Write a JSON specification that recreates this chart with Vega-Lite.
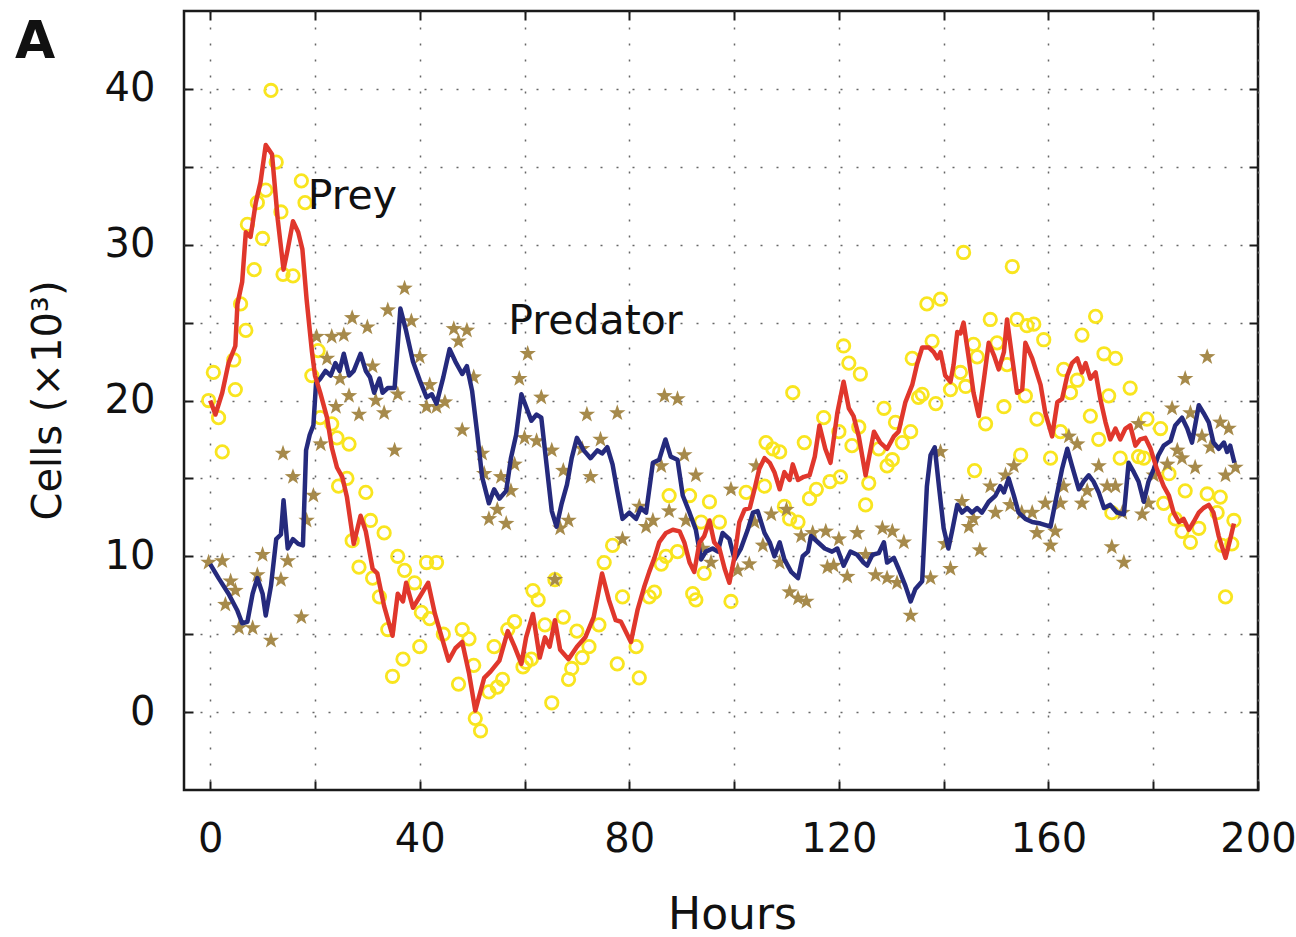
{
"$schema": "https://vega.github.io/schema/vega-lite/v6.json",
"width": 1074, "height": 779,
"autosize": {"type": "none"},
"padding": {"left": 184, "top": 11, "right": 38, "bottom": 147},
"background": "white",
"config": {"view": {"stroke": "#1a1a1a", "strokeWidth": 2.5}, "font": "DejaVu Sans"},
"title": {"text": "A", "anchor": "start", "frame": "group", "orient": "top", "offset": 0, "baseline": "alphabetic", "dx": -169, "dy": 100, "fontSize": 52, "fontWeight": "bold", "font": "DejaVu Sans", "color": "#111111"},
"datasets": {
"prey_line": [{"h":0,"v":20.0},{"h":1,"v":19.1},{"h":2.3,"v":20.5},{"h":3.5,"v":22.4},{"h":4.8,"v":23.5},{"h":5.2,"v":26.2},{"h":6.1,"v":27.6},{"h":6.8,"v":30.8},{"h":7.7,"v":30.5},{"h":8.7,"v":32.7},{"h":9.6,"v":34.0},{"h":10.6,"v":36.4},{"h":11.8,"v":35.8},{"h":12.9,"v":31.6},{"h":14,"v":28.4},{"h":14.8,"v":29.7},{"h":15.8,"v":31.5},{"h":16.8,"v":30.8},{"h":17.6,"v":29.7},{"h":18.4,"v":26.5},{"h":19.4,"v":23.2},{"h":20,"v":21.6},{"h":21,"v":20.5},{"h":22.3,"v":18.9},{"h":23.2,"v":17},{"h":24.2,"v":15.7},{"h":25.2,"v":15.1},{"h":26.1,"v":13.8},{"h":27.4,"v":10.8},{"h":28.7,"v":12.6},{"h":29.7,"v":11.6},{"h":31,"v":9.2},{"h":31.9,"v":8.9},{"h":33.2,"v":6.8},{"h":34.8,"v":4.9},{"h":35.8,"v":7.6},{"h":36.8,"v":7.1},{"h":37.4,"v":8.3},{"h":38.7,"v":6.7},{"h":40,"v":7.4},{"h":41.6,"v":8.3},{"h":42.9,"v":6.3},{"h":44.2,"v":4.8},{"h":45.5,"v":3.3},{"h":46.8,"v":4.1},{"h":48.1,"v":4.5},{"h":49.4,"v":2.5},{"h":50.6,"v":0.1},{"h":52.3,"v":2.2},{"h":53.5,"v":2.6},{"h":55.2,"v":3.3},{"h":56.8,"v":5.2},{"h":58.1,"v":4.2},{"h":59.4,"v":3.1},{"h":60.3,"v":4.8},{"h":61.6,"v":6.3},{"h":62.9,"v":3.5},{"h":63.9,"v":4.8},{"h":64.8,"v":4.2},{"h":65.8,"v":5.9},{"h":66.8,"v":4.0},{"h":68.4,"v":3.4},{"h":70,"v":4.2},{"h":71.6,"v":4.8},{"h":73.2,"v":6.1},{"h":74.8,"v":8.9},{"h":76.1,"v":7.2},{"h":77.4,"v":5.9},{"h":78.4,"v":5.8},{"h":80.3,"v":4.5},{"h":81.6,"v":6.6},{"h":82.9,"v":8.1},{"h":83.8,"v":9.0},{"h":84.8,"v":9.9},{"h":85.7,"v":10.9},{"h":87,"v":11.5},{"h":88.3,"v":11.7},{"h":89.6,"v":11.6},{"h":90.5,"v":10.9},{"h":91.5,"v":9.6},{"h":92.4,"v":9.0},{"h":93.4,"v":10.9},{"h":94.3,"v":11.3},{"h":95.3,"v":12.3},{"h":96.2,"v":10.9},{"h":97.2,"v":10.5},{"h":98.2,"v":9.2},{"h":99.1,"v":8.3},{"h":100.1,"v":10},{"h":101,"v":12.2},{"h":102,"v":13.0},{"h":103,"v":13.1},{"h":103.9,"v":14.3},{"h":104.8,"v":15.6},{"h":105.8,"v":16.3},{"h":106.8,"v":16.0},{"h":107.7,"v":15.4},{"h":108.7,"v":14.3},{"h":109.6,"v":15.4},{"h":110.6,"v":14.9},{"h":111.2,"v":15.9},{"h":112.2,"v":14.9},{"h":113.3,"v":15.1},{"h":114.4,"v":15.2},{"h":115.4,"v":16.4},{"h":116.3,"v":18.4},{"h":117.4,"v":16.9},{"h":118.4,"v":16.0},{"h":119.7,"v":19.2},{"h":120.9,"v":21.2},{"h":121.9,"v":19.5},{"h":122.8,"v":19.0},{"h":123.8,"v":17.7},{"h":125.1,"v":15.2},{"h":126.7,"v":18.0},{"h":127.9,"v":17.3},{"h":129.2,"v":16.9},{"h":130.5,"v":17.7},{"h":131.4,"v":18.0},{"h":132.7,"v":19.9},{"h":134,"v":21.0},{"h":134.9,"v":22.3},{"h":135.9,"v":23.4},{"h":137.2,"v":23.4},{"h":138.1,"v":23.1},{"h":138.8,"v":22.7},{"h":139.4,"v":23.1},{"h":140.3,"v":21.6},{"h":141.3,"v":21.2},{"h":141.9,"v":22.3},{"h":142.6,"v":24.4},{"h":143.2,"v":24.3},{"h":143.8,"v":25.0},{"h":144.8,"v":22.7},{"h":145.7,"v":20.5},{"h":146.7,"v":19.0},{"h":147.7,"v":21.4},{"h":148.6,"v":23.7},{"h":149.6,"v":22.9},{"h":150.5,"v":22.0},{"h":151.5,"v":23.1},{"h":152.1,"v":25.2},{"h":153.1,"v":22.7},{"h":154,"v":20.5},{"h":155,"v":20.7},{"h":155.6,"v":23.7},{"h":156.9,"v":22.7},{"h":158.5,"v":21.0},{"h":159.4,"v":19.2},{"h":160.7,"v":17.7},{"h":161.7,"v":19.9},{"h":162.6,"v":20.1},{"h":163.6,"v":21.6},{"h":164.5,"v":22.4},{"h":165.5,"v":22.7},{"h":166.4,"v":21.8},{"h":167.1,"v":22.4},{"h":168,"v":21.4},{"h":169,"v":21.8},{"h":169.9,"v":20.1},{"h":170.9,"v":18.6},{"h":171.8,"v":17.5},{"h":172.8,"v":18.2},{"h":173.7,"v":17.5},{"h":174.7,"v":18.2},{"h":175.6,"v":18.4},{"h":176.6,"v":17.1},{"h":177.5,"v":17.5},{"h":178.5,"v":17.6},{"h":179.5,"v":16.9},{"h":180.7,"v":15.6},{"h":182,"v":14.5},{"h":183,"v":13.9},{"h":183.9,"v":12.8},{"h":184.9,"v":12.2},{"h":185.8,"v":12.4},{"h":186.8,"v":11.7},{"h":187.7,"v":12.2},{"h":188.7,"v":12.8},{"h":189.6,"v":13.1},{"h":190.6,"v":13.3},{"h":191.5,"v":12.8},{"h":192.5,"v":11.3},{"h":193.8,"v":9.9},{"h":194.7,"v":11.1},{"h":195.4,"v":12.1}],
"pred_line": [{"h":0,"v":9.5},{"h":1.6,"v":8.6},{"h":3.5,"v":7.6},{"h":5.2,"v":6.5},{"h":6.1,"v":5.7},{"h":7.1,"v":5.8},{"h":8.1,"v":7.6},{"h":9,"v":8.6},{"h":10,"v":7.6},{"h":10.6,"v":6.2},{"h":11.6,"v":8.1},{"h":12.6,"v":11.1},{"h":13.5,"v":11.4},{"h":14,"v":13.6},{"h":14.8,"v":10.5},{"h":15.8,"v":11.1},{"h":16.8,"v":10.8},{"h":17.7,"v":10.7},{"h":18.3,"v":16.8},{"h":19,"v":17.8},{"h":19.7,"v":18.4},{"h":20.2,"v":21.1},{"h":21,"v":21.4},{"h":22,"v":21.9},{"h":23,"v":21.6},{"h":23.9,"v":22.4},{"h":24.7,"v":21.9},{"h":25.5,"v":23.0},{"h":26.5,"v":21.6},{"h":27.4,"v":21.9},{"h":28.7,"v":23.0},{"h":29.7,"v":21.9},{"h":30.5,"v":21.5},{"h":31.3,"v":20.5},{"h":32.3,"v":21.4},{"h":32.9,"v":20.5},{"h":33.9,"v":20.8},{"h":35.2,"v":20.8},{"h":36.3,"v":25.9},{"h":37.3,"v":24.6},{"h":38.7,"v":22.5},{"h":40,"v":21.3},{"h":41.3,"v":20.2},{"h":42.3,"v":20.4},{"h":43.2,"v":19.8},{"h":44.5,"v":21.5},{"h":45.7,"v":23.3},{"h":46.8,"v":22.5},{"h":48.1,"v":21.7},{"h":49,"v":22.2},{"h":50,"v":20.6},{"h":51,"v":17.8},{"h":51.9,"v":15.1},{"h":53.2,"v":13.4},{"h":54.2,"v":14.3},{"h":55.2,"v":13.7},{"h":56.5,"v":14.2},{"h":57.4,"v":16.3},{"h":58.4,"v":17.8},{"h":59.4,"v":20.4},{"h":60.3,"v":19.6},{"h":61.3,"v":18.7},{"h":62.3,"v":19.1},{"h":63.2,"v":18.9},{"h":64.2,"v":15.9},{"h":65.2,"v":12.9},{"h":66.1,"v":11.9},{"h":67.1,"v":13.4},{"h":68.1,"v":14.6},{"h":69,"v":16.3},{"h":70,"v":17.6},{"h":71.3,"v":16.8},{"h":72.6,"v":16.3},{"h":73.9,"v":16.8},{"h":74.8,"v":16.6},{"h":75.8,"v":17.0},{"h":76.8,"v":15.9},{"h":77.7,"v":14.2},{"h":78.7,"v":12.4},{"h":80,"v":12.8},{"h":81.3,"v":12.4},{"h":82.2,"v":13.1},{"h":83.2,"v":12.8},{"h":84.5,"v":16.0},{"h":85.7,"v":16.2},{"h":86.9,"v":17.5},{"h":87.9,"v":16.4},{"h":89.2,"v":16.2},{"h":90.2,"v":13.9},{"h":91.5,"v":12.8},{"h":92.7,"v":11.7},{"h":93.7,"v":9.8},{"h":94.6,"v":10.3},{"h":95.9,"v":10.5},{"h":96.9,"v":10.3},{"h":97.8,"v":11.5},{"h":99.1,"v":11.1},{"h":100.1,"v":9.8},{"h":101.3,"v":10.5},{"h":102.6,"v":11.7},{"h":103.6,"v":12.8},{"h":104.5,"v":12.9},{"h":105.8,"v":11.5},{"h":106.8,"v":10.9},{"h":107.7,"v":10.0},{"h":108.7,"v":10.9},{"h":109.6,"v":9.8},{"h":110.9,"v":9.0},{"h":112.2,"v":8.6},{"h":113.1,"v":10.0},{"h":114.1,"v":10.3},{"h":114.7,"v":11.3},{"h":116,"v":10.9},{"h":117.3,"v":10.5},{"h":118.7,"v":10.3},{"h":119.7,"v":10.5},{"h":120.9,"v":9.4},{"h":122.2,"v":10.3},{"h":123.5,"v":10.1},{"h":124.7,"v":9.6},{"h":125.4,"v":9.4},{"h":126.4,"v":10.1},{"h":127.6,"v":10.2},{"h":128.6,"v":10.9},{"h":129.2,"v":9.6},{"h":130.5,"v":9.9},{"h":131.4,"v":9.2},{"h":132.7,"v":8.1},{"h":133.7,"v":7.1},{"h":134.6,"v":7.9},{"h":135.9,"v":8.4},{"h":136.8,"v":14.5},{"h":137.5,"v":16.5},{"h":138.3,"v":17.0},{"h":139.1,"v":14.5},{"h":140,"v":11.8},{"h":140.9,"v":10.5},{"h":141.6,"v":11.6},{"h":142.6,"v":13.3},{"h":143.5,"v":12.8},{"h":144.5,"v":13.1},{"h":145.4,"v":12.8},{"h":146.4,"v":13.1},{"h":147.3,"v":12.8},{"h":148.6,"v":13.5},{"h":149.9,"v":13.9},{"h":150.8,"v":14.5},{"h":151.5,"v":14.1},{"h":152.4,"v":15.0},{"h":153.4,"v":13.9},{"h":154.3,"v":12.8},{"h":155.6,"v":12.4},{"h":156.9,"v":12.2},{"h":158.5,"v":12.1},{"h":160.4,"v":11.9},{"h":161.7,"v":14.1},{"h":162.6,"v":15.6},{"h":163.6,"v":16.9},{"h":164.5,"v":15.8},{"h":165.8,"v":14.3},{"h":166.7,"v":14.8},{"h":167.7,"v":15.2},{"h":168.6,"v":14.8},{"h":169.6,"v":14.1},{"h":170.6,"v":13.1},{"h":171.8,"v":13.3},{"h":173.1,"v":12.8},{"h":174.4,"v":12.7},{"h":175.3,"v":16.0},{"h":176.3,"v":15.4},{"h":177.2,"v":14.8},{"h":178.2,"v":13.5},{"h":179.1,"v":14.8},{"h":180.1,"v":15.6},{"h":181,"v":16.5},{"h":182,"v":17.1},{"h":183.3,"v":17.4},{"h":184.2,"v":18.4},{"h":185.5,"v":18.9},{"h":186.5,"v":18.2},{"h":187.4,"v":17.3},{"h":188.7,"v":19.7},{"h":189.6,"v":19.2},{"h":190.6,"v":18.6},{"h":191.5,"v":17.3},{"h":192.5,"v":16.9},{"h":193.5,"v":17.3},{"h":194.1,"v":16.7},{"h":194.7,"v":17.1},{"h":195.5,"v":16.0}],
"prey_obs": [{"h":-0.3,"v":20.0},{"h":0.6,"v":21.8},{"h":1.6,"v":18.9},{"h":2.3,"v":16.7},{"h":4.5,"v":22.6},{"h":4.8,"v":20.7},{"h":5.8,"v":26.2},{"h":6.8,"v":24.5},{"h":7.1,"v":31.3},{"h":8.4,"v":28.4},{"h":9,"v":32.7},{"h":10,"v":30.4},{"h":10.6,"v":33.5},{"h":11.6,"v":39.9},{"h":12.6,"v":35.3},{"h":13.5,"v":32.1},{"h":13.9,"v":28.1},{"h":15.8,"v":28.0},{"h":17.4,"v":34.1},{"h":18.1,"v":32.7},{"h":19.4,"v":21.6},{"h":20.6,"v":23.2},{"h":21,"v":18.9},{"h":23.2,"v":18.5},{"h":24.2,"v":17.6},{"h":24.5,"v":14.5},{"h":26.1,"v":15.0},{"h":26.5,"v":17.2},{"h":27.1,"v":11.0},{"h":28.4,"v":9.3},{"h":29.7,"v":14.1},{"h":30.6,"v":12.3},{"h":31,"v":8.6},{"h":32.3,"v":7.4},{"h":33.2,"v":11.5},{"h":33.9,"v":5.3},{"h":34.8,"v":2.3},{"h":35.8,"v":10.0},{"h":36.8,"v":3.4},{"h":37.1,"v":9.1},{"h":39,"v":8.3},{"h":40,"v":4.2},{"h":40.3,"v":6.4},{"h":41.3,"v":9.6},{"h":41.9,"v":6.0},{"h":43.2,"v":9.6},{"h":44.5,"v":5.0},{"h":47.4,"v":1.8},{"h":48.1,"v":5.3},{"h":49.4,"v":4.7},{"h":50.3,"v":3.0},{"h":50.6,"v":-0.4},{"h":51.6,"v":-1.2},{"h":53.2,"v":1.3},{"h":54.2,"v":4.2},{"h":54.8,"v":1.6},{"h":55.8,"v":2.1},{"h":56.8,"v":5.3},{"h":58.1,"v":5.8},{"h":59.7,"v":2.9},{"h":60.3,"v":3.2},{"h":61.3,"v":3.4},{"h":61.6,"v":7.8},{"h":62.6,"v":7.2},{"h":63.9,"v":5.6},{"h":65.2,"v":0.6},{"h":65.8,"v":8.5},{"h":67.4,"v":6.1},{"h":68.4,"v":2.1},{"h":69,"v":2.8},{"h":70,"v":5.2},{"h":71,"v":3.5},{"h":72.3,"v":4.2},{"h":74.2,"v":5.6},{"h":75.2,"v":9.6},{"h":76.8,"v":10.7},{"h":77.7,"v":3.1},{"h":78.7,"v":7.4},{"h":81.3,"v":4.2},{"h":81.9,"v":2.2},{"h":83.8,"v":7.4},{"h":84.8,"v":7.7},{"h":86.1,"v":9.5},{"h":87,"v":10.0},{"h":87.6,"v":13.9},{"h":89.2,"v":10.3},{"h":91.5,"v":13.9},{"h":92.1,"v":7.6},{"h":92.7,"v":7.2},{"h":93.7,"v":12.2},{"h":94.3,"v":8.9},{"h":95.3,"v":13.5},{"h":97.2,"v":12.2},{"h":99.4,"v":7.1},{"h":102.3,"v":14.1},{"h":105.8,"v":14.5},{"h":106.1,"v":17.3},{"h":107.4,"v":16.9},{"h":108.7,"v":16.7},{"h":109.6,"v":13.2},{"h":110.6,"v":12.4},{"h":111.2,"v":20.5},{"h":112.2,"v":12.2},{"h":113.4,"v":17.3},{"h":114.4,"v":13.7},{"h":115.7,"v":14.3},{"h":117.1,"v":18.9},{"h":118.3,"v":14.8},{"h":120,"v":18.0},{"h":120.3,"v":15.1},{"h":120.9,"v":23.5},{"h":121.9,"v":22.4},{"h":122.5,"v":17.1},{"h":123.8,"v":18.3},{"h":124.1,"v":21.7},{"h":125.1,"v":13.3},{"h":125.7,"v":14.7},{"h":127.6,"v":16.9},{"h":128.6,"v":19.5},{"h":129.2,"v":15.8},{"h":130.2,"v":16.2},{"h":130.8,"v":18.6},{"h":132.1,"v":17.3},{"h":133.7,"v":18.0},{"h":134,"v":22.7},{"h":135.2,"v":20.2},{"h":135.9,"v":20.4},{"h":136.8,"v":26.2},{"h":137.8,"v":23.8},{"h":138.5,"v":19.8},{"h":139.4,"v":26.5},{"h":141.3,"v":20.7},{"h":143.2,"v":21.8},{"h":143.8,"v":29.5},{"h":144.2,"v":20.9},{"h":145.7,"v":23.6},{"h":145.9,"v":15.5},{"h":146.4,"v":22.8},{"h":148,"v":18.5},{"h":148.9,"v":25.2},{"h":150.2,"v":23.7},{"h":151.5,"v":19.6},{"h":152.1,"v":22.3},{"h":153.1,"v":28.6},{"h":154,"v":25.2},{"h":154.7,"v":16.5},{"h":155.6,"v":20.3},{"h":155.9,"v":24.8},{"h":157.2,"v":24.9},{"h":157.8,"v":18.8},{"h":159.1,"v":23.9},{"h":160.4,"v":16.3},{"h":162.3,"v":18.0},{"h":162.9,"v":22.0},{"h":164.2,"v":20.5},{"h":165.5,"v":21.3},{"h":166.4,"v":24.2},{"h":168,"v":19.0},{"h":169,"v":25.4},{"h":169.6,"v":17.5},{"h":170.6,"v":23.0},{"h":171.5,"v":20.3},{"h":172.1,"v":12.8},{"h":172.8,"v":22.7},{"h":173.7,"v":16.3},{"h":175.6,"v":20.8},{"h":177.2,"v":16.4},{"h":178.2,"v":16.3},{"h":178.8,"v":18.8},{"h":181.4,"v":18.2},{"h":182,"v":13.4},{"h":183,"v":15.3},{"h":184.2,"v":12.4},{"h":185.5,"v":11.6},{"h":186.1,"v":14.2},{"h":187.1,"v":10.9},{"h":188.7,"v":11.8},{"h":190.3,"v":14.0},{"h":192.2,"v":12.8},{"h":192.8,"v":13.8},{"h":193.1,"v":10.7},{"h":193.8,"v":7.4},{"h":195,"v":10.8},{"h":195.4,"v":12.3}],
"pred_obs": [{"h":-0.3,"v":9.6},{"h":2.3,"v":9.7},{"h":2.9,"v":6.9},{"h":3.9,"v":8.4},{"h":4.8,"v":7.8},{"h":5.5,"v":5.4},{"h":8.1,"v":5.4},{"h":9,"v":8.8},{"h":10,"v":10.1},{"h":11.6,"v":4.6},{"h":13.5,"v":8.5},{"h":13.9,"v":16.6},{"h":14.8,"v":9.7},{"h":15.8,"v":15.1},{"h":17.4,"v":6.1},{"h":18.4,"v":12.3},{"h":19.7,"v":13.9},{"h":20.3,"v":24.1},{"h":21.1,"v":17.2},{"h":22.3,"v":22.7},{"h":23.2,"v":24.1},{"h":24,"v":19.6},{"h":24.8,"v":21.4},{"h":25.5,"v":24.2},{"h":26.5,"v":20.3},{"h":27.1,"v":25.3},{"h":28.4,"v":19.1},{"h":30,"v":24.7},{"h":31,"v":22.2},{"h":31.6,"v":20.0},{"h":33.2,"v":19.2},{"h":33.9,"v":25.8},{"h":35.2,"v":16.8},{"h":35.8,"v":20.4},{"h":37.1,"v":27.2},{"h":38.4,"v":25.1},{"h":40,"v":22.8},{"h":41.3,"v":19.6},{"h":41.9,"v":21.0},{"h":43.2,"v":19.6},{"h":44.8,"v":19.9},{"h":46.5,"v":24.6},{"h":47.4,"v":23.8},{"h":48.1,"v":18.1},{"h":49,"v":24.5},{"h":50.3,"v":21.5},{"h":51.9,"v":16.6},{"h":52.3,"v":15.3},{"h":53.2,"v":12.4},{"h":54.8,"v":13.0},{"h":55.5,"v":15.1},{"h":56.5,"v":12.1},{"h":57.4,"v":14.2},{"h":58.1,"v":15.9},{"h":59,"v":21.4},{"h":60,"v":17.6},{"h":60.6,"v":23.0},{"h":62.3,"v":17.4},{"h":63.2,"v":20.2},{"h":65.2,"v":16.8},{"h":65.8,"v":8.5},{"h":66.8,"v":11.8},{"h":67.4,"v":15.5},{"h":68.4,"v":12.3},{"h":71,"v":16.9},{"h":71.9,"v":19.1},{"h":72.6,"v":15.1},{"h":74.5,"v":17.5},{"h":77.7,"v":19.2},{"h":78.7,"v":11.1},{"h":81.9,"v":13.2},{"h":83.2,"v":11.9},{"h":84.5,"v":12.3},{"h":86.1,"v":15.8},{"h":86.7,"v":20.3},{"h":87.6,"v":12.9},{"h":89.2,"v":20.1},{"h":90.5,"v":16.5},{"h":90.8,"v":12.3},{"h":92.7,"v":15.2},{"h":94,"v":10.5},{"h":95.6,"v":9.6},{"h":99.4,"v":14.3},{"h":100.7,"v":9.1},{"h":102.9,"v":9.5},{"h":103.9,"v":12.2},{"h":104.2,"v":15.8},{"h":105.5,"v":10.7},{"h":107.1,"v":12.7},{"h":108.7,"v":9.6},{"h":110,"v":13.0},{"h":110.6,"v":7.7},{"h":112.2,"v":7.3},{"h":112.8,"v":11.3},{"h":113.8,"v":7.1},{"h":115,"v":11.5},{"h":117.5,"v":11.6},{"h":117.8,"v":9.3},{"h":119,"v":9.4},{"h":120,"v":11.1},{"h":121.6,"v":8.7},{"h":123.5,"v":11.5},{"h":125.1,"v":10.1},{"h":127,"v":8.8},{"h":128.3,"v":11.8},{"h":129.2,"v":8.6},{"h":130.2,"v":11.6},{"h":131.1,"v":8.3},{"h":132.4,"v":10.9},{"h":133.7,"v":6.2},{"h":137.5,"v":8.6},{"h":139.4,"v":16.7},{"h":140.3,"v":10.8},{"h":141.3,"v":9.2},{"h":143.5,"v":13.5},{"h":144.8,"v":11.9},{"h":145.7,"v":12.4},{"h":146.9,"v":10.4},{"h":148.9,"v":14.5},{"h":149.9,"v":12.8},{"h":151.8,"v":15.2},{"h":152.7,"v":13.3},{"h":153.4,"v":15.8},{"h":154.9,"v":12.8},{"h":156.9,"v":12.8},{"h":157.8,"v":11.5},{"h":159.4,"v":13.4},{"h":160.4,"v":10.7},{"h":161.3,"v":11.6},{"h":162.3,"v":13.4},{"h":162.9,"v":14.5},{"h":163.9,"v":17.7},{"h":165.5,"v":17.2},{"h":166.4,"v":13.4},{"h":167.4,"v":14.2},{"h":169.6,"v":15.8},{"h":171.2,"v":14.5},{"h":172.1,"v":10.6},{"h":172.8,"v":14.5},{"h":174.1,"v":12.8},{"h":174.4,"v":9.6},{"h":177.2,"v":18.5},{"h":177.9,"v":12.7},{"h":179.1,"v":13.4},{"h":180.1,"v":15.2},{"h":182.7,"v":15.9},{"h":183.6,"v":19.5},{"h":184.6,"v":16.8},{"h":185.5,"v":16.3},{"h":186.1,"v":21.4},{"h":187.1,"v":19.2},{"h":188,"v":15.7},{"h":189.3,"v":17.7},{"h":190.3,"v":22.8},{"h":190.9,"v":17.0},{"h":192.8,"v":18.6},{"h":193.8,"v":15.2},{"h":194.4,"v":18.2},{"h":195.7,"v":15.7}]
},
"layer": [
{"data": {"name": "prey_obs"},
 "mark": {"type": "point", "shape": "circle", "filled": false, "color": "#f9e51f", "strokeWidth": 2.8, "size": 155, "opacity": 1},
 "encoding": {
  "x": {"field": "h", "type": "quantitative", "scale": {"domain": [-5, 200], "nice": false, "zero": false},
   "axis": {"orient": "bottom", "values": [0,20,40,60,80,100,120,140,160,180,200], "labelExpr": "datum.value % 40 === 0 ? datum.label : ''",
    "title": "Hours", "titleFontSize": 44, "titleFontWeight": "normal", "titleColor": "#111111", "titleFont": "DejaVu Sans",
    "titleX": 548, "titleY": 138, "titleAlign": "center", "titleBaseline": "alphabetic", "titleAnchor": null,
    "grid": true, "gridDash": [2, 14], "gridColor": "#666666", "gridWidth": 1.5,
    "domain": false, "ticks": true, "tickSize": -9, "tickWidth": 2, "tickColor": "#1a1a1a",
    "labelFontSize": 40, "labelFont": "DejaVu Sans", "labelColor": "#111111", "labelPadding": 38, "labelFlush": false, "labelOverlap": false}},
  "y": {"field": "v", "type": "quantitative", "scale": {"domain": [-5, 45], "nice": false, "zero": false},
   "axis": {"orient": "left", "values": [0,5,10,15,20,25,30,35,40], "labelExpr": "datum.value % 10 === 0 ? datum.label : ''",
    "title": "Cells (×10³)", "titleFontSize": 40, "titleFontWeight": "normal", "titleColor": "#111111", "titleFont": "DejaVu Sans",
    "titleX": -124, "titleY": 389, "titleAlign": "center", "titleBaseline": "alphabetic", "titleAngle": 270, "titleAnchor": null,
    "grid": true, "gridDash": [2, 14], "gridColor": "#666666", "gridWidth": 1.5,
    "domain": false, "ticks": true, "tickSize": -9, "tickWidth": 2, "tickColor": "#1a1a1a",
    "labelFontSize": 40, "labelFont": "DejaVu Sans", "labelColor": "#111111", "labelPadding": 38, "labelFlush": false, "labelOverlap": false}}
 }},
{"data": {"name": "pred_obs"},
 "mark": {"type": "point", "shape": "M0,-1L0.235,-0.324L0.951,-0.309L0.38,0.124L0.588,0.809L0,0.4L-0.588,0.809L-0.38,0.124L-0.951,-0.309L-0.235,-0.324Z", "filled": true, "color": "#a68a4b", "size": 300, "opacity": 1},
 "encoding": {
  "x": {"field": "h", "type": "quantitative",
   "axis": {"orient": "top", "values": [0,20,40,60,80,100,120,140,160,180,200], "labels": false, "title": null, "grid": false, "domain": false, "ticks": true, "tickSize": -9, "tickWidth": 2, "tickColor": "#1a1a1a"}},
  "y": {"field": "v", "type": "quantitative",
   "axis": {"orient": "right", "values": [0,5,10,15,20,25,30,35,40], "labels": false, "title": null, "grid": false, "domain": false, "ticks": true, "tickSize": -9, "tickWidth": 2, "tickColor": "#1a1a1a"}}
 }},
{"data": {"name": "pred_line"},
 "mark": {"type": "line", "color": "#252a7d", "strokeWidth": 4.5, "strokeJoin": "round"},
 "encoding": {"x": {"field": "h", "type": "quantitative", "axis": null}, "y": {"field": "v", "type": "quantitative", "axis": null}}},
{"data": {"name": "prey_line"},
 "mark": {"type": "line", "color": "#e0372c", "strokeWidth": 4.5, "strokeJoin": "round"},
 "encoding": {"x": {"field": "h", "type": "quantitative", "axis": null}, "y": {"field": "v", "type": "quantitative", "axis": null}}},
{"data": {"values": [{}]},
 "mark": {"type": "text", "align": "left", "baseline": "alphabetic", "fontSize": 41, "font": "DejaVu Sans", "color": "#111111"},
 "encoding": {"x": {"datum": 18.6, "type": "quantitative", "axis": null}, "y": {"datum": 32.3, "type": "quantitative", "axis": null}, "text": {"value": "Prey"}}},
{"data": {"values": [{}]},
 "mark": {"type": "text", "align": "left", "baseline": "alphabetic", "fontSize": 41, "font": "DejaVu Sans", "color": "#111111"},
 "encoding": {"x": {"datum": 56.9, "type": "quantitative", "axis": null}, "y": {"datum": 24.3, "type": "quantitative", "axis": null}, "text": {"value": "Predator"}}}
],
"resolve": {"axis": {"x": "independent", "y": "independent"}}
}
